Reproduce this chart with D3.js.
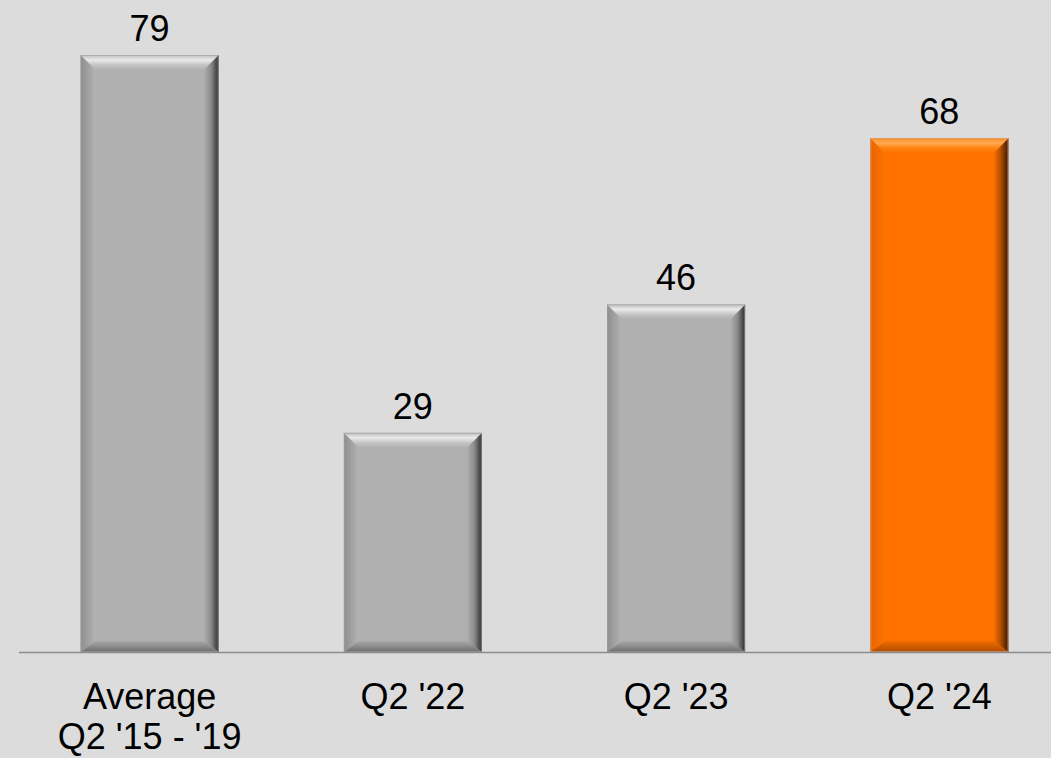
<!DOCTYPE html>
<html><head><meta charset="utf-8">
<script src="https://cdn.jsdelivr.net/npm/d3@7"></script>
<style>html,body{margin:0;padding:0;background:#dcdcdc;}svg{display:block;}</style>
</head><body>
<script>
const categories = ["Average\nQ2 '15 - '19", "Q2 '22", "Q2 '23", "Q2 '24"];
const values = [79, 29, 46, 68];
const highlight = [false, false, false, true];

const W = 1051, H = 758;
const baseY = 652;
const svg = d3.select("body").append("svg").attr("width", W).attr("height", H);
svg.append("rect").attr("width", W).attr("height", H).attr("fill", "#dcdcdc");

const x = d3.scaleBand().domain(categories).range([18, 1071]).paddingInner(0.476).paddingOuter(0.238);
const y = d3.scaleLinear().domain([0, 79]).range([baseY, 55]);

const defs = svg.append("defs");
const themes = {
  gray: {base:"#b0b0b0", top:["#bdbdbd","#eaeaea","#c4c4c4","#b0b0b0"], left:["#8e8e8e","#b4b4b4"], right:["#b0b0b0","#8a8a8a","#2e2e2e"], bottom:["#a8a8a8","#6e6e6e"], stroke:"#a0a0a0"},
  orange: {base:"#ff7200", top:["#ff8a20","#ffab55","#ff8210","#ff7200"], left:["#e86400","#ff7400"], right:["#ff7200","#b04c00","#3a1800"], bottom:["#f06c00","#b04c00"], stroke:"#c8a890"}
};
function grad(id, stops, vertical){
  const g = defs.append("linearGradient").attr("id", id)
    .attr("x1",0).attr("y1",0).attr("x2", vertical?0:1).attr("y2", vertical?1:0);
  stops.forEach((c,i)=>g.append("stop").attr("offset", i/(stops.length-1)).attr("stop-color", c));
}
Object.entries(themes).forEach(([k,t])=>{
  grad(k+"Top", t.top, true);
  grad(k+"Left", t.left, false);
  grad(k+"Right", t.right, false);
  grad(k+"Bottom", t.bottom, true);
});

const font = "Liberation Sans, Arial, sans-serif";
const b = 15, bb = 11;
categories.forEach((c,i)=>{
  const t = highlight[i] ? "orange" : "gray";
  const th = themes[t];
  const x0 = x(c), w = x.bandwidth(), y0 = y(values[i]), h = baseY - y0;
  const g = svg.append("g");
  g.append("rect").attr("x",x0).attr("y",y0).attr("width",w).attr("height",h).attr("fill",th.base);
  const poly = (pts, fill)=>g.append("polygon").attr("points", pts.map(p=>p.join(",")).join(" ")).attr("fill", fill);
  poly([[x0,y0],[x0+b,y0+b],[x0+b,y0+h-bb],[x0,y0+h]], `url(#${t}Left)`);
  poly([[x0+w,y0],[x0+w,y0+h],[x0+w-b,y0+h-bb],[x0+w-b,y0+b]], `url(#${t}Right)`);
  poly([[x0,y0+h],[x0+w,y0+h],[x0+w-b,y0+h-bb],[x0+b,y0+h-bb]], `url(#${t}Bottom)`);
  poly([[x0,y0],[x0+w,y0],[x0+w-b,y0+b],[x0+b,y0+b]], `url(#${t}Top)`);
  g.append("rect").attr("x",x0+0.5).attr("y",y0+0.5).attr("width",w-1).attr("height",h-1)
    .attr("fill","none").attr("stroke",th.stroke).attr("stroke-width",1).attr("stroke-opacity",0.6);
  svg.append("text").attr("x", x0 + w/2).attr("y", y0 - 14)
    .attr("text-anchor","middle").attr("font-family",font)
    .attr("font-size", 36).attr("fill","#000").text(values[i]);
});

svg.append("line").attr("x1",19).attr("x2",W).attr("y1",baseY+0.5).attr("y2",baseY+0.5)
  .attr("stroke","#8c8c8c").attr("stroke-width",1.5);

categories.forEach(c=>{
  const lines = c.split("\n");
  const t = svg.append("text").attr("x", x(c)+x.bandwidth()/2).attr("y", 709)
    .attr("text-anchor","middle").attr("font-family",font)
    .attr("font-size", 36).attr("fill","#000");
  lines.forEach((l,j)=>t.append("tspan").attr("x", x(c)+x.bandwidth()/2).attr("dy", j?40:0).text(l));
});
</script>
</body></html>
